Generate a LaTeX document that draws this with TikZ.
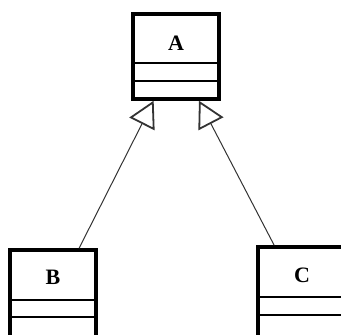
\documentclass[tikz,border=0pt]{standalone}
\usepackage{fontspec}
\setmainfont{Liberation Serif}
\usetikzlibrary{arrows.meta}
\begin{document}
\begin{tikzpicture}[x=1pt,y=-1pt,
  classbox/.style={draw=black,line width=3.5pt,rectangle,minimum width=86pt,inner sep=0pt},
  divider/.style={draw=black,line width=1.3pt},
  classname/.style={font=\bfseries\fontsize{22}{22}\selectfont,inner sep=0pt},
  inherit/.style={draw=black!80,line width=1pt,
    -{Triangle[open,length=26pt,width=28pt,line width=1.8pt]}}
]
\useasboundingbox (0,0) rectangle (341,335);
\clip (0,0) rectangle (341,335);

% class boxes
\node[classbox,minimum height=85pt]  (A) at (176,56.5) {};
\node[classbox,minimum height=100pt] (B) at (53,300) {};
\node[classbox,minimum height=100pt] (C) at (301,297) {};

% compartment dividers
\draw[divider] (A.west |- 0,63)  -- (A.east |- 0,63);
\draw[divider] (A.west |- 0,81)  -- (A.east |- 0,81);
\draw[divider] (B.west |- 0,300) -- (B.east |- 0,300);
\draw[divider] (B.west |- 0,317) -- (B.east |- 0,317);
\draw[divider] (C.west |- 0,297) -- (C.east |- 0,297);
\draw[divider] (C.west |- 0,315) -- (C.east |- 0,315);

% class names
\node[classname] (Aname) at (176,43)  {A};
\node[classname] (Bname) at (53,277)  {B};
\node[classname] (Cname) at (302,275) {C};

% generalisation arrows
\draw[inherit] (B) -- (A);
\draw[inherit] (C) -- (A);
\end{tikzpicture}
\end{document}
